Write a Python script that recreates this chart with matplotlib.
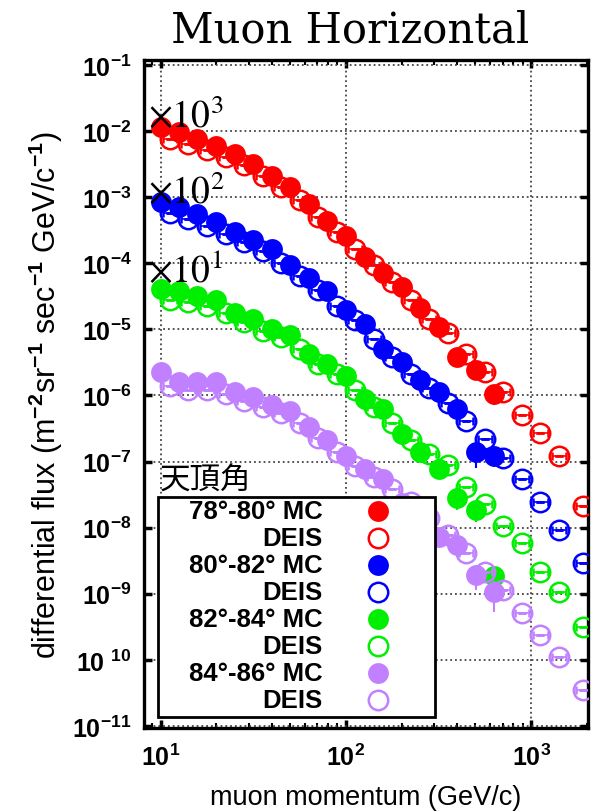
import matplotlib.pyplot as plt
import numpy as np
from matplotlib.patches import Rectangle
from matplotlib.lines import Line2D
from matplotlib.ticker import FixedLocator, FixedFormatter, LogLocator, NullLocator, NullFormatter

plt.rcParams['font.family'] = ['Liberation Sans', 'DejaVu Sans']
plt.rcParams['mathtext.fontset'] = 'custom'
plt.rcParams['mathtext.rm'] = 'Liberation Sans:bold'
plt.rcParams['mathtext.it'] = 'Liberation Sans:italic'
plt.rcParams['mathtext.bf'] = 'Liberation Sans:bold'

# momentum bin centres (GeV/c)
p_mc = [10.0, 12.6, 15.8, 20.0, 25.1, 31.6, 39.8, 50.1, 63.1, 79.4,
        100, 126, 158, 200, 251, 316, 398, 501, 631]
p_deis = [11.2, 14.1, 17.8, 22.4, 28.2, 35.5, 44.7, 56.2, 70.8, 89.1,
          112, 141, 178, 224, 282, 355, 447, 562, 708, 891, 1122, 1413, 1900]

# differential flux (m^-2 sr^-1 sec^-1 GeV/c^-1), unscaled
mc_78_80 = [1.15e-5, 9.55e-6, 7.59e-6, 5.89e-6, 4.47e-6, 3.16e-6, 2.09e-6, 1.41e-6, 7.76e-7, 4.37e-7,
            2.63e-7, 1.23e-7, 7.24e-8, 4.37e-8, 2.14e-8, 1.07e-8, 3.80e-9, 2.45e-9, 1.05e-9]
deis_78_80 = [7.59e-6, 6.31e-6, 5.13e-6, 4.07e-6, 3.02e-6, 2.09e-6, 1.41e-6, 8.91e-7, 5.01e-7, 2.95e-7,
              1.62e-7, 9.33e-8, 5.13e-8, 2.82e-8, 1.41e-8, 8.91e-9, 4.17e-9, 2.24e-9, 1.12e-9, 5.01e-10,
              2.75e-10, 1.20e-10, 2.09e-11]

mc_80_82 = [8.32e-6, 7.08e-6, 5.50e-6, 4.17e-6, 3.02e-6, 2.24e-6, 1.62e-6, 9.55e-7, 5.89e-7, 3.80e-7,
            1.95e-7, 1.20e-7, 5.01e-8, 3.16e-8, 1.74e-8, 1.12e-8, 6.17e-9, 1.38e-9, 1.23e-9]
deis_80_82 = [5.75e-6, 4.68e-6, 3.63e-6, 2.75e-6, 2.09e-6, 1.51e-6, 1.00e-6, 6.31e-7, 3.89e-7, 2.29e-7,
              1.38e-7, 7.08e-8, 3.80e-8, 2.14e-8, 1.29e-8, 7.59e-9, 4.07e-9, 2.19e-9, 1.15e-9, 5.37e-10,
              2.45e-10, 9.33e-11, 2.95e-11]

mc_82_84 = [4.07e-6, 3.80e-6, 3.16e-6, 2.75e-6, 1.74e-6, 1.41e-6, 1.00e-6, 8.32e-7, 4.17e-7, 2.95e-7,
            2.00e-7, 8.71e-8, 6.31e-8, 2.63e-8, 1.38e-8, 7.76e-9, 2.82e-9, 1.86e-9, 1.86e-10]
deis_82_84 = [2.82e-6, 2.63e-6, 2.24e-6, 1.74e-6, 1.29e-6, 9.55e-7, 7.59e-7, 5.01e-7, 2.95e-7, 2.09e-7,
              1.20e-7, 6.76e-8, 3.80e-8, 2.14e-8, 1.29e-8, 8.91e-9, 4.17e-9, 2.24e-9, 1.05e-9, 5.89e-10,
              2.14e-10, 1.07e-10, 3.16e-11]

mc_84_86 = [2.24e-6, 1.58e-6, 1.62e-6, 1.58e-6, 1.12e-6, 9.33e-7, 7.24e-7, 5.75e-7, 3.39e-7, 2.14e-7,
            1.20e-7, 7.76e-8, 5.37e-8, 2.40e-8, 1.41e-8, 7.24e-9, 5.50e-9, 1.95e-9, 1.05e-9]
deis_84_86 = [1.38e-6, 1.23e-6, 1.23e-6, 1.05e-6, 8.32e-7, 6.76e-7, 5.37e-7, 3.80e-7, 2.29e-7, 1.41e-7,
              8.71e-8, 5.89e-8, 3.80e-8, 2.45e-8, 1.41e-8, 7.76e-9, 4.17e-9, 2.14e-9, 1.12e-9, 5.13e-10,
              2.40e-10, 1.12e-10, 3.55e-11]

# relative statistical error of the MC (only the last bins are visible)
mc_err_78_80 = [0, 0, 0, 0, 0, 0, 0, 0, 0, 0, 0, 0, 0, 0, 0, 0, 0, 0, 0.32]
mc_err_80_82 = [0, 0, 0, 0, 0, 0, 0, 0, 0, 0, 0, 0, 0, 0, 0, 0, 0, 0.43, 0.32]
mc_err_82_84 = [0, 0, 0, 0, 0, 0, 0, 0, 0, 0, 0, 0, 0, 0, 0, 0, 0.34, 0.34, 0]
mc_err_84_86 = [0, 0, 0, 0, 0, 0, 0, 0, 0, 0, 0, 0, 0, 0, 0, 0, 0, 0.41, 0.5]

zenith = ['78°-80° MC', '80°-82° MC', '82°-84° MC', '84°-86° MC']
scales = [1e3, 1e2, 1e1, 1]
scale_text = [r'$\times10^{3}$', r'$\times10^{2}$', r'$\times10^{1}$']
colors = ['#ff0000', '#0000ff', '#00ee00', '#c080ff']

mc_sets = [mc_78_80, mc_80_82, mc_82_84, mc_84_86]
deis_sets = [deis_78_80, deis_80_82, deis_82_84, deis_84_86]
err_sets = [mc_err_78_80, mc_err_80_82, mc_err_82_84, mc_err_84_86]

y_ticks = [1e-1, 1e-2, 1e-3, 1e-4, 1e-5, 1e-6, 1e-7, 1e-8, 1e-9, 1e-10, 1e-11]
y_tick_labels = [r'$10^{-1}$', r'$10^{-2}$', r'$10^{-3}$', r'$10^{-4}$', r'$10^{-5}$', r'$10^{-6}$',
                 r'$10^{-7}$', r'$10^{-8}$', r'$10^{-9}$', r'$10\ ^{10}$', r'$10^{-11}$']
x_ticks = [10, 100, 1000]
x_tick_labels = [r'$10^{1}$', r'$10^{2}$', r'$10^{3}$']

half_bin = 0.038  # DEIS bin half width in decades

fig = plt.figure(figsize=(5.91, 8.12), dpi=100)
ax = fig.add_axes([0.2437, 0.1022, 0.7512, 0.8227])
ax.set_xscale('log')
ax.set_yscale('log')

p_deis_arr = np.array(p_deis)
xerr = [p_deis_arr * (1 - 10 ** -half_bin), p_deis_arr * (10 ** half_bin - 1)]

handles = []
for i in range(4):
    c = colors[i]
    deis = np.array(deis_sets[i]) * scales[i]
    mc = np.array(mc_sets[i]) * scales[i]
    err = mc * np.array(err_sets[i])

    ax.errorbar(p_deis, deis, xerr=xerr, yerr=np.zeros_like(deis), fmt='o', ms=14,
                mfc='none', mec=c, mew=1.8, ecolor=c, elinewidth=1.2, capsize=3,
                capthick=1.2, zorder=3 + 2 * i)
    ax.errorbar(p_mc, mc, yerr=[err, err], fmt='o', ms=15, mfc=c, mec=c, mew=0,
                ecolor=c, elinewidth=1.5, capsize=5, capthick=1.5, zorder=4 + 2 * i)

    handles.append(Line2D([], [], ls='none', marker='o', ms=15, mfc=c, mec=c, mew=0))
    handles.append(Line2D([], [], ls='none', marker='o', ms=14, mfc='none', mec=c, mew=1.8))

ax.set_xlim(8.13, 2025)
ax.set_ylim(9.3e-12, 0.119)

ax.xaxis.set_major_locator(FixedLocator(x_ticks))
ax.xaxis.set_major_formatter(FixedFormatter(x_tick_labels))
ax.xaxis.set_minor_locator(LogLocator(base=10, subs=np.arange(2, 10)))
ax.xaxis.set_minor_formatter(NullFormatter())
ax.yaxis.set_major_locator(FixedLocator(y_ticks))
ax.yaxis.set_major_formatter(FixedFormatter(y_tick_labels))
ax.yaxis.set_minor_locator(NullLocator())

ax.tick_params(which='major', direction='in', length=6, width=2.5, labelsize=18,
               top=True, right=True)
ax.tick_params(which='minor', direction='in', length=3.5, width=1.5, top=True, right=False)
ax.tick_params(axis='x', which='major', pad=11)
ax.tick_params(axis='y', which='major', pad=9)
for s in ax.spines.values():
    s.set_linewidth(2.4)

ax.grid(True, which='major', ls=':', lw=1.3, color='#444444')
ax.set_axisbelow(True)

ax.set_xlabel('muon momentum (GeV/c)', fontsize=19.5, labelpad=10)
ax.set_ylabel(r'differential flux (m$^{-2}$sr$^{-1}$ sec$^{-1}$ GeV/c$^{-1}$)', fontsize=22, labelpad=5)
fig.suptitle('Muon Horizontal', family='DejaVu Serif', fontsize=30, x=0.592, y=0.988, va='top')

# scale factors for the shifted spectra
for txt, yfrac in zip(scale_text, [0.900, 0.786, 0.668]):
    ax.text(0.008, yfrac, txt, transform=ax.transAxes, fontsize=27, math_fontfamily='stix',
            va='baseline', ha='left', zorder=20)

# legend box drawn by hand: labels right aligned, markers to the right
ax.add_patch(Rectangle((0.0315, 0.0165), 0.6235, 0.3295, transform=ax.transAxes,
                       fc='white', ec='black', lw=2, zorder=30))
ax.text(0.036, 0.358, '天頂角', transform=ax.transAxes, fontsize=22,
        family=['Noto Sans CJK JP', 'DejaVu Sans'], va='baseline', ha='left', zorder=31)
legend_labels = []
for z in zenith:
    legend_labels += [z, 'DEIS']
for k, (lab, h) in enumerate(zip(legend_labels, handles)):
    yk = 0.325 - 0.0404 * k
    ax.text(0.403, yk, lab, transform=ax.transAxes, fontsize=18.5, fontweight='bold',
            ha='right', va='center', zorder=31)
    ax.plot([0.527], [yk], transform=ax.transAxes, ls='none', marker='o',
            ms=h.get_markersize(), mfc=h.get_markerfacecolor(), mec=h.get_markeredgecolor(),
            mew=h.get_markeredgewidth(), zorder=31, clip_on=False)

fig.savefig('out.png', dpi=100)
